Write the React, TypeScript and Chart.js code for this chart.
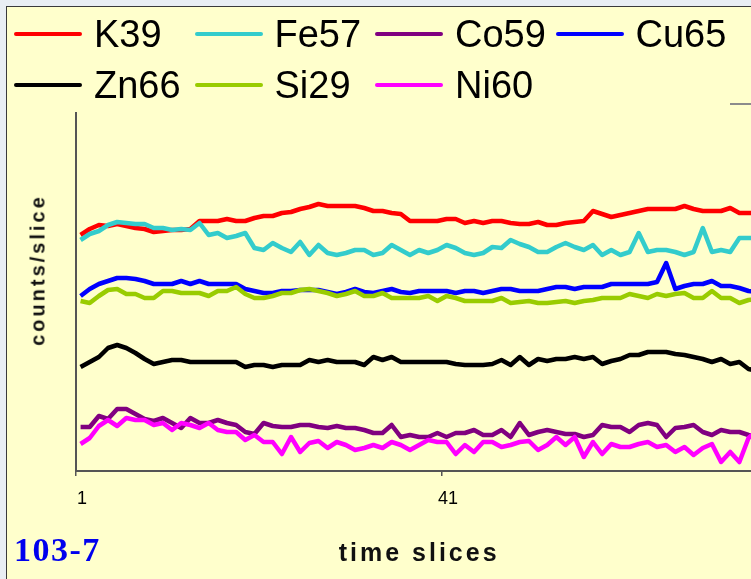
import React, { useEffect, useRef } from 'react';
import { Chart, registerables } from 'chart.js';

Chart.register(...registerables);

// time slices (categories)
const slices = Array.from({ length: 75 }, (_, i) => i + 1);
const xTickLabels = ['1', '41'];

const seriesNames = ['K39', 'Fe57', 'Co59', 'Cu65', 'Zn66', 'Si29', 'Ni60'];
const seriesColors = ['#FF0000', '#33CCCC', '#800080', '#0000FF', '#000000', '#99CC00', '#FF00FF'];

// counts/slice (arbitrary units)
const k39 = [
  236, 242, 246, 245, 247, 245, 243, 242, 239, 240,
  241, 241, 242, 250, 250, 250, 252, 250, 250, 253,
  255, 255, 258, 259, 262, 264, 267, 265, 265, 265,
  265, 263, 260, 260, 258, 257, 250, 250, 250, 250,
  252, 252, 248, 250, 248, 250, 250, 248, 247, 247,
  249, 246, 246, 248, 249, 250, 260, 257, 254, 256,
  258, 260, 262, 262, 262, 262, 265, 262, 260, 260,
  260, 263, 258, 258, 258,
];
const fe57 = [
  231, 237, 240, 246, 249, 248, 247, 247, 243, 243,
  241, 242, 241, 248, 236, 238, 233, 235, 238, 223,
  221, 228, 223, 219, 229, 216, 226, 218, 216, 218,
  221, 221, 216, 218, 226, 221, 216, 221, 218, 221,
  226, 223, 218, 216, 218, 224, 223, 231, 227, 224,
  219, 219, 224, 228, 224, 221, 226, 216, 221, 216,
  219, 238, 219, 221, 221, 219, 216, 219, 243, 219,
  221, 219, 233, 233, 233,
];
const co59 = [
  44, 44, 55, 52, 62, 62, 57, 52, 50, 53,
  48, 43, 53, 48, 48, 51, 48, 46, 39, 37,
  48, 45, 44, 44, 46, 46, 44, 43, 45, 43,
  43, 41, 38, 38, 46, 34, 36, 34, 34, 38,
  34, 38, 38, 41, 36, 36, 41, 34, 48, 36,
  39, 41, 39, 37, 37, 34, 36, 46, 44, 44,
  39, 46, 48, 46, 34, 43, 44, 46, 39, 36,
  41, 39, 39, 36, 35,
];
const cu65 = [
  175, 182, 187, 190, 193, 193, 192, 190, 187, 187,
  187, 190, 187, 190, 187, 187, 187, 187, 182, 180,
  178, 178, 180, 180, 181, 181, 181, 179, 177, 179,
  182, 179, 178, 180, 182, 179, 178, 180, 180, 180,
  180, 178, 180, 180, 178, 180, 182, 182, 180, 180,
  180, 182, 184, 184, 182, 184, 184, 184, 187, 187,
  187, 187, 187, 189, 208, 182, 185, 187, 187, 190,
  185, 185, 183, 180, 179,
];
const zn66 = [
  104, 109, 114, 123, 126, 123, 118, 112, 107, 109,
  111, 111, 109, 109, 109, 109, 109, 109, 104, 106,
  106, 104, 106, 106, 106, 111, 109, 111, 109, 109,
  109, 106, 114, 111, 114, 109, 109, 109, 109, 109,
  109, 107, 106, 106, 106, 107, 111, 106, 114, 106,
  112, 110, 112, 112, 114, 112, 114, 107, 110, 112,
  116, 116, 119, 119, 119, 117, 116, 114, 112, 109,
  112, 107, 109, 102, 100,
];
const si29 = [
  170, 168, 175, 181, 182, 177, 177, 173, 173, 180,
  180, 178, 178, 178, 175, 180, 180, 184, 177, 173,
  173, 175, 178, 178, 181, 182, 180, 178, 175, 177,
  180, 175, 175, 178, 173, 173, 173, 173, 175, 170,
  175, 173, 170, 170, 170, 170, 173, 168, 169, 170,
  168, 168, 169, 170, 168, 170, 171, 173, 173, 173,
  177, 175, 173, 177, 175, 177, 178, 173, 173, 180,
  173, 173, 168, 171, 172,
];
const ni60 = [
  27, 33, 45, 51, 45, 53, 51, 51, 46, 48,
  41, 48, 46, 43, 48, 41, 39, 39, 31, 36,
  29, 29, 17, 34, 19, 28, 30, 23, 29, 26,
  21, 23, 26, 23, 29, 26, 21, 26, 31, 29,
  29, 17, 26, 19, 29, 29, 24, 26, 29, 30,
  21, 26, 34, 26, 34, 14, 29, 17, 27, 24,
  24, 27, 29, 24, 26, 19, 24, 16, 23, 27,
  9, 19, 9, 33, 41,
];

const yMin = 0;
const yMax = 358;

const SANS = '"Liberation Sans", Arial, Helvetica, sans-serif';
const SERIF = '"Liberation Serif", "Times New Roman", serif';

export default function App() {
  const ref = useRef<HTMLCanvasElement>(null);

  useEffect(() => {
    const canvas = ref.current;
    if (!canvas) return;
    const seriesValues = [k39, fe57, co59, cu65, zn66, si29, ni60];
    // spaced-out axis title (as in the original Excel rendering); reset before labels
    const spacingPlugin = {
      id: 'letterSpacing',
      beforeDraw(chart: any) {
        (chart.ctx as any).letterSpacing = '3px';
      },
      beforeDatasetsDraw(chart: any) {
        (chart.ctx as any).letterSpacing = '0px';
      },
    };
    const chart = new Chart(canvas, {
      type: 'line',
      data: {
        labels: slices,
        datasets: seriesNames.map((name, k) => ({
          label: name,
          data: seriesValues[k],
          borderColor: seriesColors[k],
          backgroundColor: seriesColors[k],
          borderWidth: 4.5,
          pointRadius: 0,
          tension: 0,
          fill: false,
          borderJoinStyle: 'round' as const,
          order: seriesNames.length - k,
        })),
      },
      options: {
        animation: false,
        responsive: false,
        maintainAspectRatio: false,
        devicePixelRatio: 1,
        events: [],
        layout: { padding: { left: 0, top: 113, right: 7.75, bottom: 0 } },
        plugins: {
          legend: { display: false },
          tooltip: { enabled: false },
        },
        scales: {
          x: {
            type: 'linear',
            min: 0.5,
            max: 75.5,
            afterFit: (s: any) => {
              s.height = 108;
            },
            afterBuildTicks: (s: any) => {
              s.ticks = xTickLabels.map((l) => ({ value: Number(l) - 0.5 }));
            },
            ticks: {
              autoSkip: false,
              maxRotation: 0,
              minRotation: 0,
              labelOffset: 6,
              padding: 12,
              z: 1,
              color: '#000',
              font: { family: SANS, size: 18 },
              callback: (v: any) => {
                const i = xTickLabels.findIndex((l) => Number(l) - 0.5 === Number(v));
                return i >= 0 ? xTickLabels[i] : '';
              },
            },
            grid: {
              display: true,
              drawOnChartArea: false,
              drawTicks: true,
              tickLength: 5,
              color: '#555',
              lineWidth: 1.5,
            },
            border: { display: true, color: '#555', width: 2 },
            title: {
              display: true,
              text: 'time slices',
              color: '#111',
              font: { family: SANS, size: 25, weight: 'bold' },
              padding: { top: 0, bottom: 10 },
            },
          },
          y: {
            type: 'linear',
            min: yMin,
            max: yMax,
            afterFit: (s: any) => {
              s.width = 76;
            },
            ticks: { display: false },
            grid: { display: false },
            border: { display: true, color: '#555', width: 2 },
          },
        },
      },
      plugins: [spacingPlugin],
    } as any);
    return () => chart.destroy();
  }, []);

  return (
    <div
      style={{
        position: 'fixed',
        left: 0,
        top: 0,
        width: 751,
        height: 579,
        overflow: 'hidden',
        background: '#E9EEF3',
      }}
    >
      <div
        style={{
          position: 'absolute',
          left: 6,
          top: 6,
          width: 800,
          height: 620,
          background: '#FFFFCC',
          borderLeft: '1px solid #3a3a3a',
          borderTop: '1px solid #3a3a3a',
        }}
      />
      <div
        style={{
          position: 'absolute',
          left: 730,
          top: 103,
          width: 40,
          height: 2,
          background: '#8c8c8c',
        }}
      />
      <canvas
        ref={ref}
        width={770}
        height={579}
        style={{ position: 'absolute', left: 0, top: 0, width: 770, height: 579 }}
      />
      {seriesNames.map((name, k) => {
        const col = k % 4;
        const row = Math.floor(k / 4);
        return (
          <div
            key={name}
            style={{
              position: 'absolute',
              left: 14 + col * 180.5,
              top: 12 + row * 50.5,
              height: 44,
              display: 'flex',
              alignItems: 'center',
              whiteSpace: 'nowrap',
            }}
          >
            <div style={{ width: 68, height: 4, borderRadius: 2, background: seriesColors[k] }} />
            <span
              style={{
                marginLeft: 12,
                fontFamily: SANS,
                fontSize: 38,
                lineHeight: '44px',
                color: '#000',
              }}
            >
              {name}
            </span>
          </div>
        );
      })}
      <div
        style={{
          position: 'absolute',
          left: 38,
          top: 270,
          transform: 'translate(-50%, -50%) rotate(-90deg)',
          fontFamily: SANS,
          fontWeight: 'bold',
          fontSize: 20,
          letterSpacing: 3,
          whiteSpace: 'nowrap',
          color: '#111',
        }}
      >
        counts/slice
      </div>
      <div
        style={{
          position: 'absolute',
          left: 14,
          top: 531,
          fontFamily: SERIF,
          fontWeight: 'bold',
          fontSize: 34,
          lineHeight: '38px',
          letterSpacing: 1.5,
          color: '#0000EE',
          whiteSpace: 'nowrap',
        }}
      >
        103-7
      </div>
    </div>
  );
}
